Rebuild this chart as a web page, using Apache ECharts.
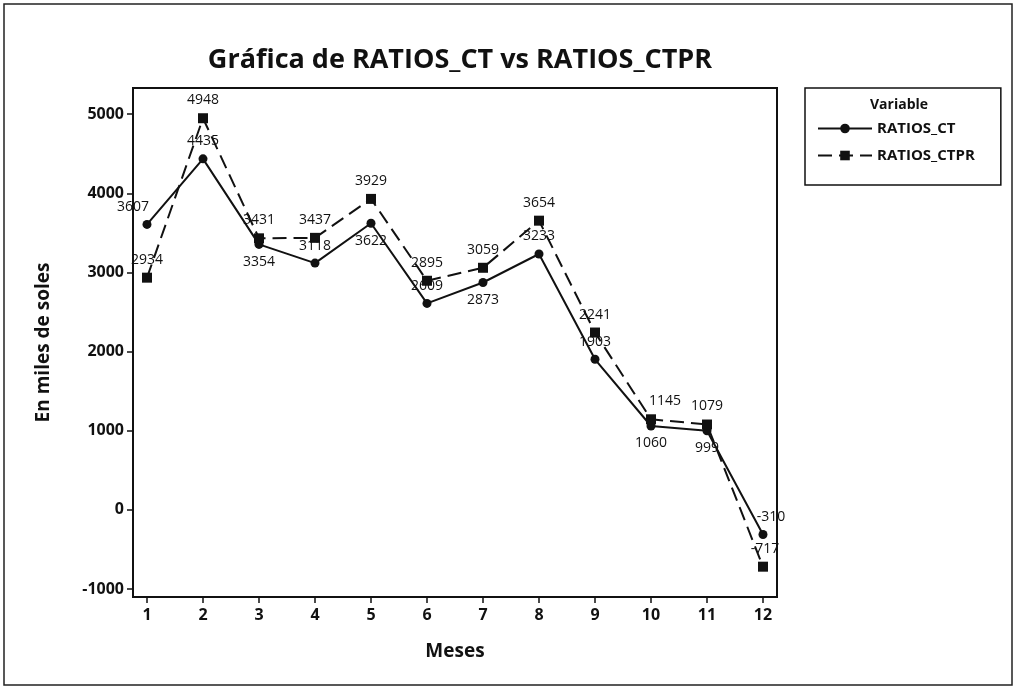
<!DOCTYPE html>
<html><head><meta charset="utf-8">
<script src="https://cdn.jsdelivr.net/npm/echarts@6/dist/echarts.min.js"></script>
<style>html,body{margin:0;padding:0;background:#fff}#c{width:1016px;height:689px}</style>
</head><body><div id="c"></div>
<script>
const months = [1,2,3,4,5,6,7,8,9,10,11,12];
const ratiosCT = [3607,4435,3354,3118,3622,2609,2873,3233,1903,1060,999,-310];
const ratiosCTPR = [2934,4948,3431,3437,3929,2895,3059,3654,2241,1145,1079,-717];
const yTicks = [-1000,0,1000,2000,3000,4000,5000];
// label placement per point (style only)
const ctPos = ['top','top','bottom','top','bottom','top','bottom','top','top','bottom','bottom','top'];
const ctprPos = ['top','top','top','top','top','top','top','top','top','top','top','top'];

const FONT = '"Open Sans", "DejaVu Sans", sans-serif';
function mk(vals, pos, off){
  return vals.map((v,i)=>({value:[months[i], v], label:{position:pos[i], offset: off[i]||[0,0]}}));
}
const ctOff = {0:[-14,0],11:[8,0]};
const ctprOff = {9:[14,0],11:[2,0]};

const chart = echarts.init(document.getElementById('c'));
chart.setOption({
  animation:false,
  backgroundColor:'#fff',
  title:{text:'Gráfica de RATIOS_CT vs RATIOS_CTPR', left:455, top:42, textAlign:'center',
    textStyle:{fontFamily:FONT, fontSize:27, fontWeight:'bold', color:'#111'}},
  grid:{left:133, right:239, top:88, bottom:92, show:true, borderColor:'#111', borderWidth:2, backgroundColor:'transparent'},
  xAxis:{type:'value', min:0.75, max:12.25,
    name:'Meses', nameLocation:'middle', nameGap:45,
    nameTextStyle:{fontFamily:FONT, fontSize:19, fontWeight:'bold', color:'#111'},
    axisLine:{show:true, onZero:false, lineStyle:{color:'#111', width:2}},
    axisTick:{show:true, inside:false, length:6, lineStyle:{color:'#111', width:1.5}, customValues:months},
    axisLabel:{customValues:months, fontFamily:FONT, fontSize:16, fontWeight:'bold', color:'#111', margin:10},
    splitLine:{show:false}},
  yAxis:{type:'value', min:-1100, max:5330,
    name:'En miles de soles', nameLocation:'middle', nameGap:80, nameRotate:90,
    nameTextStyle:{fontFamily:FONT, fontSize:19, fontWeight:'bold', color:'#111'},
    axisLine:{show:true, onZero:false, lineStyle:{color:'#111', width:2}},
    axisTick:{show:true, length:6, lineStyle:{color:'#111', width:1.5}, customValues:yTicks},
    axisLabel:{customValues:yTicks, formatter:v=>String(v), fontFamily:FONT, fontSize:16, fontWeight:'bold', color:'#111', margin:9},
    splitLine:{show:false}},
  legend:{left:805, top:88, orient:'vertical', padding:[33,26,22,12], itemGap:12,
    borderColor:'#111', borderWidth:1.5, itemWidth:54, itemHeight:12,
    textStyle:{fontFamily:FONT, fontSize:15, fontWeight:'bold', color:'#111'},
    data:['RATIOS_CT','RATIOS_CTPR']},
  graphic:[
    {type:'text', left:870, top:98, style:{text:'Variable', font:'bold 14px "Open Sans", sans-serif', fill:'#111'}},
    {type:'rect', shape:{x:4, y:4, width:1008, height:681}, style:{fill:'none', stroke:'#222', lineWidth:1.5}, silent:true}
  ],
  series:[
    {name:'RATIOS_CT', type:'line', data:mk(ratiosCT, ctPos, ctOff), symbol:'circle', symbolSize:9,
      lineStyle:{color:'#111', width:2}, itemStyle:{color:'#111'},
      label:{show:true, formatter:p=>p.value[1], fontFamily:FONT, fontSize:14, color:'#111', distance:6}},
    {name:'RATIOS_CTPR', type:'line', data:mk(ratiosCTPR, ctprPos, ctprOff), symbol:'rect', symbolSize:10,
      lineStyle:{color:'#111', width:2, type:[14,7]}, itemStyle:{color:'#111'},
      label:{show:true, formatter:p=>p.value[1], fontFamily:FONT, fontSize:14, color:'#111', distance:6}}
  ]
});
</script></body></html>
